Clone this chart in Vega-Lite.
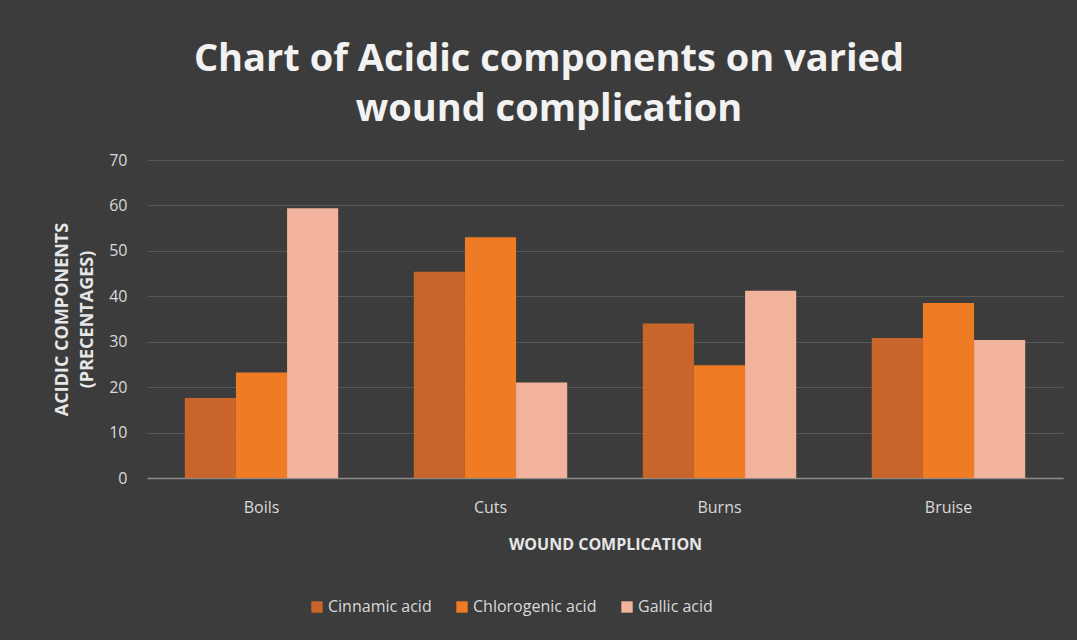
{
  "$schema": "https://vega.github.io/schema/vega-lite/v6.json",
  "width": 916,
  "height": 318,
  "autosize": "none",
  "padding": {"left": 147, "top": 160, "right": 14, "bottom": 162},
  "background": "#3c3c3c",
  "title": {
    "text": ["Chart of Acidic components on varied", "wound complication"],
    "font": "Open Sans",
    "fontSize": 38,
    "fontWeight": "bold",
    "color": "#f2f2f2",
    "anchor": "middle",
    "dx": -56,
    "offset": 23,
    "lineHeight": 50
  },
  "data": {
    "values": [
      {"wound": "Boils", "acid": "Cinnamic acid", "value": 17.6},
      {"wound": "Boils", "acid": "Chlorogenic acid", "value": 23.2},
      {"wound": "Boils", "acid": "Gallic acid", "value": 59.4},
      {"wound": "Cuts", "acid": "Cinnamic acid", "value": 45.4},
      {"wound": "Cuts", "acid": "Chlorogenic acid", "value": 53.0},
      {"wound": "Cuts", "acid": "Gallic acid", "value": 21.0},
      {"wound": "Burns", "acid": "Cinnamic acid", "value": 34.0},
      {"wound": "Burns", "acid": "Chlorogenic acid", "value": 24.8},
      {"wound": "Burns", "acid": "Gallic acid", "value": 41.2},
      {"wound": "Bruise", "acid": "Cinnamic acid", "value": 30.8},
      {"wound": "Bruise", "acid": "Chlorogenic acid", "value": 38.5},
      {"wound": "Bruise", "acid": "Gallic acid", "value": 30.4}
    ]
  },
  "mark": {"type": "bar"},
  "encoding": {
    "x": {
      "field": "wound",
      "type": "nominal",
      "sort": ["Boils", "Cuts", "Burns", "Bruise"],
      "scale": {"paddingInner": 0.33, "paddingOuter": 0.165},
      "axis": {
        "title": "WOUND COMPLICATION",
        "labelAngle": 0,
        "labelFont": "Open Sans",
        "labelFontSize": 16,
        "labelColor": "#d9d9d9",
        "labelPadding": 21,
        "ticks": false,
        "domainColor": "#8c8c8c",
        "domainWidth": 1.5,
        "titleFont": "Open Sans",
        "titleFontSize": 16,
        "titleFontWeight": "bold",
        "titleColor": "#e6e6e6",
        "titlePadding": 21
      }
    },
    "xOffset": {
      "field": "acid",
      "type": "nominal",
      "sort": ["Cinnamic acid", "Chlorogenic acid", "Gallic acid"],
      "scale": {"paddingInner": 0, "paddingOuter": 0}
    },
    "y": {
      "field": "value",
      "type": "quantitative",
      "scale": {"domain": [0, 70]},
      "axis": {
        "title": ["ACIDIC COMPONENTS", "(PRECENTAGES)"],
        "values": [0, 10, 20, 30, 40, 50, 60, 70],
        "labelFont": "Open Sans",
        "labelFontSize": 16,
        "labelColor": "#d9d9d9",
        "labelPadding": 20,
        "ticks": false,
        "domain": false,
        "gridColor": "#585858",
        "gridWidth": 1,
        "titleFont": "Open Sans",
        "titleFontSize": 18,
        "titleFontWeight": "bold",
        "titleColor": "#e6e6e6",
        "titlePadding": 12,
        "titleLineHeight": 25
      }
    },
    "color": {
      "field": "acid",
      "type": "nominal",
      "sort": ["Cinnamic acid", "Chlorogenic acid", "Gallic acid"],
      "scale": {
        "domain": ["Cinnamic acid", "Chlorogenic acid", "Gallic acid"],
        "range": ["#c9652a", "#ef7b25", "#f2b39c"]
      },
      "legend": {
        "title": null,
        "orient": "none",
        "direction": "horizontal",
        "legendX": 162,
        "legendY": 439,
        "symbolType": "square",
        "symbolSize": 130,
        "symbolStrokeWidth": 0,
        "labelFont": "Open Sans",
        "labelFontSize": 16,
        "labelColor": "#d9d9d9",
        "labelOffset": 3,
        "columnPadding": 22
      }
    }
  },
  "config": {
    "view": {"stroke": null}
  }
}
